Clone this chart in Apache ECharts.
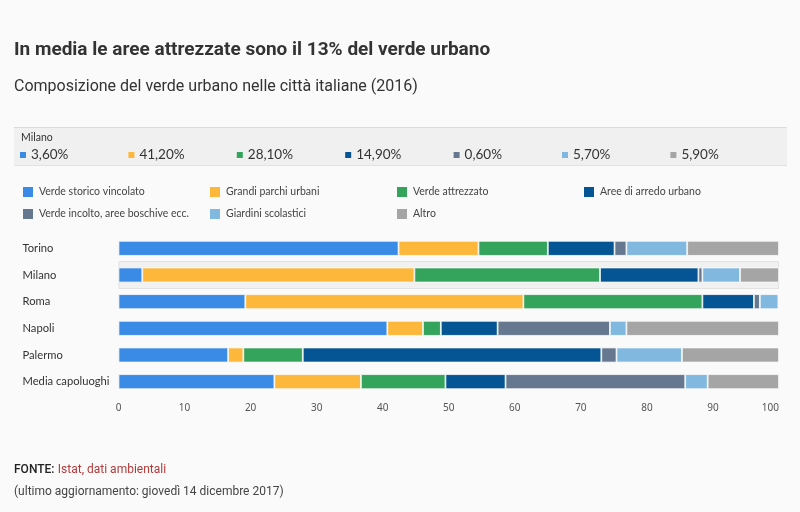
<!DOCTYPE html>
<html><head><meta charset="utf-8">
<script src="https://cdn.jsdelivr.net/npm/echarts@6/dist/echarts.min.js"></script>
<style>html,body{margin:0;padding:0;background:#fafafa}#c{width:800px;height:512px}</style>
</head><body><div id="c"></div>
<script>
const cities = ['Torino','Milano','Roma','Napoli','Palermo','Media capoluoghi'];
const seriesNames = ['Verde storico vincolato','Grandi parchi urbani','Verde attrezzato','Aree di arredo urbano','Verde incolto, aree boschive ecc.','Giardini scolastici','Altro'];
const colors = ['#3a8be6','#fdb83b','#34a35b','#055595','#66788f','#80b8df','#a5a5a5'];
const verdeStorico   = [42.4, 3.6, 19.2, 40.7, 16.6, 23.6];
const grandiParchi   = [12.1, 41.2, 42.1, 5.4, 2.3, 13.1];
const verdeAttrezz   = [10.5, 28.1, 27.1, 2.7, 9.0, 12.8];
const areeArredo     = [10.1, 14.9, 7.8, 8.6, 45.2, 9.1];
const verdeIncolto   = [1.8, 0.6, 0.9, 17.0, 2.3, 27.2];
const giardini       = [9.2, 5.7, 2.8, 2.5, 9.9, 3.4];
const altro          = [13.9, 5.9, 0.1, 23.1, 14.7, 10.8];
const xTicks = [0,10,20,30,40,50,60,70,80,90,100];
const highlighted = 'Milano';

const allValues = [verdeStorico, grandiParchi, verdeAttrezz, areeArredo, verdeIncolto, giardini, altro];
const hi = cities.indexOf(highlighted);
const fmt = v => v.toFixed(2).replace('.', ',') + '%';

const chart = echarts.init(document.getElementById('c'));
const graphics = [
  {type:'rect', shape:{x:14,y:127,width:773,height:39}, style:{fill:'#f0f0f0'}, z:0},
  {type:'rect', shape:{x:14,y:127,width:773,height:1}, style:{fill:'#dcdcdc'}, z:1},
  {type:'rect', shape:{x:14,y:165,width:773,height:1}, style:{fill:'#e2e2e2'}, z:1},
  {type:'text', left:21, top:132, style:{text:highlighted, fill:'#333', font:'10.5px Lato'}}
];
allValues.forEach((arr,i) => {
  const x = 20 + i*108.4;
  graphics.push({type:'rect', shape:{x:x, y:152, width:6, height:6}, style:{fill:colors[i]}});
  graphics.push({type:'text', x:x+11, y:148, style:{text:fmt(arr[hi]), fill:'#333', font:'13.5px Lato'}});
});
graphics.push({type:'text', left:14, top:464, style:{
  text:'{b|FONTE:} {r|Istat, dati ambientali}',
  rich:{b:{fill:'#222', font:'500 12px Roboto'}, r:{fill:'#b03a3a', font:'12px Roboto'}}}});
graphics.push({type:'text', left:14, top:486, style:{text:'(ultimo aggiornamento: giovedì 14 dicembre 2017)', fill:'#444', font:'12px Roboto'}});

const series = allValues.map((arr,i) => ({
  name: seriesNames[i], type:'bar', stack:'tot', data: arr, barWidth: 15,
  itemStyle:{color: colors[i], borderColor:'#fafafa', borderWidth:0.8},
  emphasis:{disabled:true}, z: 3
}));
series.push({
  name:'bg', type:'bar', yAxisIndex:1, barWidth:28, silent:true, z:1,
  data: cities.map(c => c === highlighted ? 100 : null),
  itemStyle:{color:'#f1f1f1', borderColor:'#e2e2e2', borderWidth:1}
});

chart.setOption({
  backgroundColor:'#fafafa',
  color: colors,
  animation:false,
  title:[
    {text:'In media le aree attrezzate sono il 13% del verde urbano', left:9, top:36,
     textStyle:{fontFamily:'Roboto', fontSize:19, fontWeight:'bold', color:'#333'}},
    {text:'Composizione del verde urbano nelle città italiane (2016)', left:9, top:74,
     textStyle:{fontFamily:'Roboto', fontSize:16, fontWeight:'normal', color:'#333'}}
  ],
  legend:{
    data: seriesNames, left:21, top:181, width:760, itemGap:0, padding:0,
    itemWidth:12, itemHeight:12, icon:'rect', selectedMode:false,
    textStyle:{fontFamily:'Lato', fontSize:10.5, color:'#444', width:169, lineHeight:22}
  },
  grid:{left:118.5, right:21, top:235, height:160},
  xAxis:{type:'value', min:0, max:100, interval:10,
    axisLine:{show:false}, axisTick:{show:false}, splitLine:{show:false},
    axisLabel:{color:'#555', fontSize:10, fontFamily:'Noto Sans', margin:8, alignMaxLabel:'right'}},
  yAxis:[
    {type:'category', data:cities, inverse:true,
     axisLine:{show:false}, axisTick:{show:false},
     axisLabel:{align:'left', margin:96, color:'#333', fontSize:11.2, fontFamily:'Lato'}},
    {type:'category', data:cities, inverse:true, show:false}
  ],
  graphic: graphics,
  series: series
});
</script></body></html>
